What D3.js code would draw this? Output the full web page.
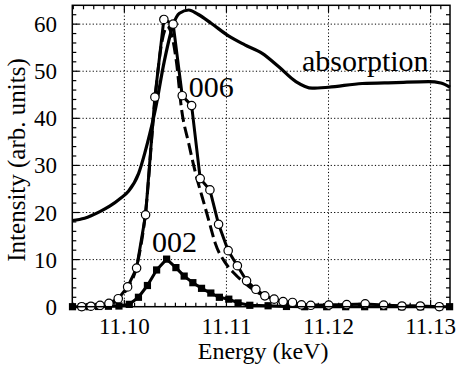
<!DOCTYPE html>
<html>
<head>
<meta charset="utf-8">
<script src="https://cdn.jsdelivr.net/npm/d3@7"></script>
<style>
html,body{margin:0;padding:0;background:#fff;}
svg{display:block;}
</style>
</head>
<body>
<svg id="chart" width="459" height="370"></svg>
<script>
// ---- data ----
const energy006 = [11.09582,11.09672,11.09762,11.09849,11.09940,11.10032,11.10120,11.10208,11.10299,11.10387,11.10478,11.10567,11.10659,11.10743,11.10838,11.10923,11.11017,11.11107,11.11197,11.11288,11.11376,11.11467,11.11555,11.11647,11.11735,11.11826,11.12002,11.12178,11.12359,11.12540,11.12719,11.12899,11.13085];
const intensity006 = [0.0,0.1,0.3,0.7,1.7,4.2,8.2,19.5,44.5,61.0,60.0,44.8,42.7,27.2,24.8,17.5,11.9,8.7,5.5,3.7,2.3,1.6,1.1,0.9,0.4,0.3,0.35,0.45,0.6,0.35,0.15,0.15,0.0];

const energy002 = [11.09492,11.09580,11.09654,11.09747,11.09844,11.09947,11.10048,11.10138,11.10226,11.10316,11.10414,11.10505,11.10586,11.10671,11.10756,11.10847,11.10931,11.11023,11.11114,11.11229,11.11408,11.11588,11.11767,11.11982,11.12168,11.12354,11.12540,11.12716,11.12902,11.13088,11.13186];
const intensity002 = [0,0,0,0.05,0.1,0.15,0.5,2.0,4.5,7.8,10.1,8.3,6.5,5.1,3.9,2.9,2.0,1.6,0.8,0.3,0.2,0.05,0,0,0,0,0,0,0,0,0];

const energyCalc = [11.0955,11.0970,11.0985,11.0994,11.1003,11.1012,11.1021,11.1030,11.1037,11.1042,11.1046,11.1051,11.1056,11.1063,11.1069,11.1079,11.1084,11.1089,11.1099,11.1108,11.1118,11.1127,11.1137,11.1146,11.1155,11.1170,11.1190,11.1220,11.1260,11.1310];
const intensityCalc = [0,0.1,0.6,1.4,4.0,8.5,20.5,44,56.5,59.5,58,52,42,34.7,29.0,21.2,17.3,13.5,9.3,7.0,5.0,3.5,2.3,1.5,1.0,0.5,0.3,0.3,0.2,0.0];

const energyAbs = [11.0949,11.0961,11.0976,11.0986,11.0996,11.1004,11.1014,11.1020,11.1025,11.1030,11.1039,11.1048,11.1054,11.1063,11.1072,11.1085,11.1102,11.1118,11.1135,11.1151,11.1168,11.1184,11.1200,11.1233,11.1266,11.1298,11.1310,11.1319];
const intensityAbs = [18.3,18.8,20.2,21.4,23.0,24.5,28.3,32.6,36.8,41.5,52,60.0,62.3,63.0,62.1,60.2,57.5,55.6,53.8,51.0,47.8,46.4,46.6,47.4,47.6,47.8,47.5,46.6];

const xTicks = [11.10, 11.11, 11.12, 11.13];
const xTickLabels = ["11.10", "11.11", "11.12", "11.13"];
const yTicks = [0, 10, 20, 30, 40, 50, 60];
const yTickLabels = ["0", "10", "20", "30", "40", "50", "60"];
const xTitle = "Energy (keV)";
const yTitle = "Intensity (arb. units)";
const annotations = [
  {text: "absorption", x: 11.1174, y: 50.0},
  {text: "006", x: 11.1063, y: 44.6},
  {text: "002", x: 11.1027, y: 11.7}
];

// ---- pick an installed serif font ----
function hasFont(name) {
  const c = document.createElement("canvas").getContext("2d");
  const s = "Energy 11.10 abcdefghijklmWwIi";
  return ["monospace", "sans-serif"].some(base => {
    c.font = "40px " + base; const w0 = c.measureText(s).width;
    c.font = `40px "${name}", ${base}`; const w1 = c.measureText(s).width;
    return Math.abs(w0 - w1) > 0.5;
  });
}
const serifCandidates = ["Liberation Serif", "Times New Roman", "Tinos", "Nimbus Roman", "Nimbus Roman No9 L", "DejaVu Serif", "Noto Serif", "FreeSerif", "Times"];
const found = serifCandidates.find(hasFont);
const FONT = found ? `"${found}", serif` : "serif";

// ---- layout ----
const svg = d3.select("#chart");
const L = 72.3, R = 450, T = 5.3, B = 306.7;
const x = d3.scaleLinear().domain([11.0949, 11.1319]).range([L, R]);
const y = d3.scaleLinear().domain([0, 64]).range([B, T]);

svg.append("rect").attr("width", 459).attr("height", 370).attr("fill", "#fff");

// grid
const grid = svg.append("g").attr("stroke", "#000").attr("stroke-width", 1).attr("stroke-dasharray", "1.2,2.2");
grid.selectAll("line.gx").data(xTicks).join("line")
  .attr("x1", d => x(d)).attr("x2", d => x(d)).attr("y1", T).attr("y2", B);
grid.selectAll("line.gy").data(yTicks.filter(d => d > 0)).join("line")
  .attr("x1", L).attr("x2", R).attr("y1", d => y(d)).attr("y2", d => y(d));

// minor & major ticks (inward, all sides)
const xMinor = d3.range(11095, 11132).map(d => d / 1000).filter(d => !xTicks.some(t => Math.abs(t - d) < 1e-6));
const yMinor = d3.range(2, 64, 2).filter(d => d % 10 !== 0);
const ticks = svg.append("g").attr("stroke", "#000").attr("stroke-width", 1.2);
function xTick(v, len) {
  ticks.append("line").attr("x1", x(v)).attr("x2", x(v)).attr("y1", B).attr("y2", B - len);
  ticks.append("line").attr("x1", x(v)).attr("x2", x(v)).attr("y1", T).attr("y2", T + len);
}
function yTick(v, len) {
  ticks.append("line").attr("x1", L).attr("x2", L + len).attr("y1", y(v)).attr("y2", y(v));
  ticks.append("line").attr("x1", R).attr("x2", R - len).attr("y1", y(v)).attr("y2", y(v));
}
xMinor.forEach(v => xTick(v, 4));
xTicks.forEach(v => xTick(v, 7));
yMinor.forEach(v => yTick(v, 4));
yTicks.forEach(v => yTick(v, 7));

// lines
const lineLin = d3.line().x(d => x(d[0])).y(d => y(d[1]));
const lineSmooth = d3.line().x(d => x(d[0])).y(d => y(d[1])).curve(d3.curveMonotoneX);
const abs = d3.zip(energyAbs, intensityAbs);
const calc = d3.zip(energyCalc, intensityCalc);
const s006 = d3.zip(energy006, intensity006);
const s002 = d3.zip(energy002, intensity002);

svg.append("path").datum(abs).attr("d", lineSmooth).attr("fill", "none")
  .attr("stroke", "#000").attr("stroke-width", 3.2).attr("stroke-linejoin", "round");
svg.append("path").datum(calc).attr("d", lineSmooth).attr("fill", "none")
  .attr("stroke", "#000").attr("stroke-width", 3).attr("stroke-dasharray", "12,5");
svg.append("path").datum(s002).attr("d", lineLin).attr("fill", "none")
  .attr("stroke", "#000").attr("stroke-width", 3).attr("stroke-linejoin", "round");
svg.append("path").datum(s006).attr("d", lineLin).attr("fill", "none")
  .attr("stroke", "#000").attr("stroke-width", 3).attr("stroke-linejoin", "round");

// markers
svg.append("g").selectAll("rect").data(s002).join("rect")
  .attr("x", d => x(d[0]) - 3.6).attr("y", d => y(d[1]) - 3.6)
  .attr("width", 7.2).attr("height", 7.2).attr("fill", "#000");
svg.append("g").selectAll("circle").data(s006).join("circle")
  .attr("cx", d => x(d[0])).attr("cy", d => y(d[1])).attr("r", 4.2)
  .attr("fill", "#fff").attr("stroke", "#000").attr("stroke-width", 1.2);

// annotations
svg.append("g").selectAll("text").data(annotations).join("text")
  .attr("x", d => x(d.x)).attr("y", d => y(d.y))
  .style("font-family", FONT).attr("font-size", 30).attr("fill", "#000").text(d => d.text);

// frame
svg.append("rect").attr("x", L).attr("y", T).attr("width", R - L).attr("height", B - T)
  .attr("fill", "none").attr("stroke", "#000").attr("stroke-width", 1.5);

// tick labels
svg.append("g").selectAll("text").data(xTicks).join("text")
  .attr("x", d => x(d)).attr("y", 334).attr("text-anchor", "middle")
  .style("font-family", FONT).attr("font-size", 23).attr("fill", "#000")
  .text((d, i) => xTickLabels[i]);
svg.append("g").selectAll("text").data(yTicks).join("text")
  .attr("x", 57).attr("y", d => y(d) + 8).attr("text-anchor", "end")
  .style("font-family", FONT).attr("font-size", 23).attr("fill", "#000")
  .text((d, i) => yTickLabels[i]);

// axis titles
svg.append("text").attr("x", (L + R) / 2 + 2).attr("y", 359).attr("text-anchor", "middle")
  .style("font-family", FONT).attr("font-size", 24).attr("fill", "#000").text(xTitle);
svg.append("text").attr("transform", `translate(25,${(T + B) / 2 + 4}) rotate(-90)`)
  .attr("text-anchor", "middle").style("font-family", FONT).attr("font-size", 25)
  .attr("fill", "#000").text(yTitle);
</script>
</body>
</html>
